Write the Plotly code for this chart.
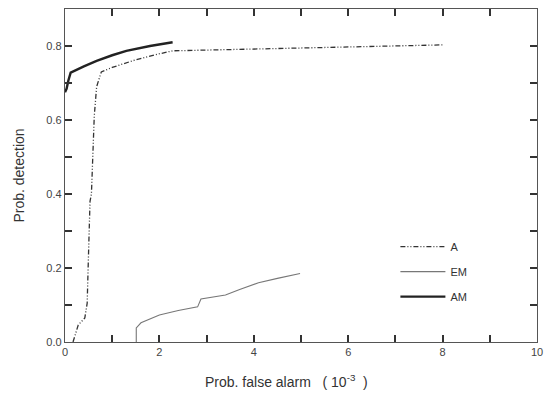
import plotly.graph_objects as go

# A (dash-dot)
a_x = [0.17, 0.28, 0.42, 0.47, 0.49, 0.53, 0.56, 0.62, 0.67, 0.77, 1.0, 1.43, 1.9, 2.28, 3.0, 4.0, 5.0, 6.0, 7.0, 8.0]
a_y = [0.0, 0.046, 0.065, 0.105, 0.20, 0.38, 0.40, 0.61, 0.69, 0.73, 0.742, 0.76, 0.776, 0.787, 0.789, 0.792, 0.795, 0.797, 0.80, 0.803]
# EM (thin)
em_x = [1.51, 1.51, 1.61, 2.0, 2.4, 2.81, 2.88, 3.4, 3.7, 4.1, 4.5, 4.98]
em_y = [0.0, 0.038, 0.052, 0.073, 0.085, 0.095, 0.116, 0.127, 0.142, 0.16, 0.172, 0.185]
# AM (thick)
am_x = [0.0, 0.035, 0.07, 0.12, 0.4, 0.67, 1.0, 1.3, 1.8, 2.28]
am_y = [0.675, 0.685, 0.706, 0.728, 0.745, 0.76, 0.775, 0.787, 0.80, 0.81]

# ticks (labels only on every second tick)
x_ticks = [0, 1, 2, 3, 4, 5, 6, 7, 8, 9, 10]
x_labels = ["0", "", "2", "", "4", "", "6", "", "8", "", "10"]
y_ticks = [0.0, 0.1, 0.2, 0.3, 0.4, 0.5, 0.6, 0.7, 0.8]
y_labels = ["0.0", "", "0.2", "", "0.4", "", "0.6", "", "0.8"]

fig = go.Figure()
fig.add_trace(go.Scatter(x=a_x, y=a_y, mode="lines", name="A", legendgroup="a",
                         line=dict(color="#333333", width=1.3, dash="5px,2px,1px,2px,1px,2px")))
fig.add_trace(go.Scatter(x=em_x, y=em_y, mode="lines", name="EM", legendgroup="em",
                         line=dict(color="#777777", width=1.1)))
fig.add_trace(go.Scatter(x=am_x, y=am_y, mode="lines", name="AM", legendgroup="am",
                         line=dict(color="#222222", width=2.4)))

axis_common = dict(showgrid=False, zeroline=False, showline=True, linecolor="#555555", linewidth=1.4,
                   mirror="allticks", ticklen=7, tickwidth=1.5,
                   tickfont=dict(family="Liberation Sans", size=11, color="#444444"))

fig.update_xaxes(range=[0, 10], tickmode="array", tickvals=x_ticks, ticktext=x_labels,
                 ticks="inside", tickcolor="#333333", **axis_common)
fig.update_yaxes(range=[0, 0.9], tickmode="array", tickvals=y_ticks, ticktext=y_labels,
                 ticks="inside", tickcolor="#333333",
                 title=dict(text="Prob. detection", font=dict(family="Liberation Sans", size=14, color="#333333"),
                            standoff=18),
                 **axis_common)

fig.add_annotation(text="Prob. false alarm   ( 10<sup>-3</sup>  )", xref="paper", yref="paper",
                   x=0.292, y=-0.085, xanchor="left", yanchor="top", showarrow=False,
                   font=dict(family="Liberation Sans", size=14, color="#333333"))

fig.update_layout(
    width=551, height=393,
    margin=dict(l=65, r=11, t=8, b=51),
    paper_bgcolor="white", plot_bgcolor="white",
    showlegend=True,
    legend=dict(x=0.70, y=0.33, xanchor="left", yanchor="top", bgcolor="rgba(0,0,0,0)",
                font=dict(family="Liberation Sans", size=11, color="#333333"),
                itemwidth=45, tracegroupgap=6),
)

fig.write_html("out.html")
